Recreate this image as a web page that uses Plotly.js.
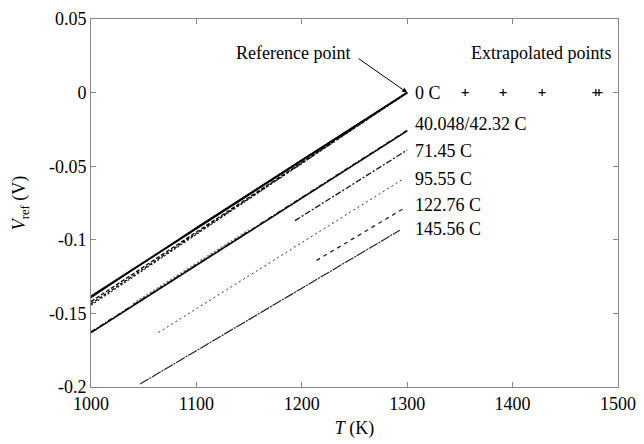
<!DOCTYPE html>
<html>
<head>
<meta charset="utf-8">
<script src="https://cdn.plot.ly/plotly-3.0.1.min.js"></script>
<style>html,body{margin:0;padding:0;background:#fff;}#chart{width:644px;height:444px;}</style>
</head>
<body>
<div id="chart"></div>
<script>
// ---- data ----
const T_grid = [1000, 1100, 1200, 1300];
const V_0C_a = [-0.1385, -0.0925, -0.0462, 0];
const V_0C_b = [-0.1395, -0.0915, -0.0455, 0];
const V_0C_c = [-0.1420, -0.0950, -0.0475, 0];
const V_0C_d = [-0.1435, -0.0960, -0.0480, 0];
const V_0C_e = [-0.1445, -0.0965, -0.0485, 0];

const T_40 = [1000, 1300];
const V_40 = [-0.1630, -0.0260];
const V_42 = [-0.1625, -0.0255];
const T_42grey = [1040, 1150];
const V_42grey = [-0.1437, -0.0935];

const T_71 = [1193.5, 1300];
const V_71 = [-0.0870, -0.0390];
const T_95 = [1064, 1296];
const V_95 = [-0.1630, -0.0588];
const T_122 = [1214, 1296];
const V_122 = [-0.1140, -0.0790];
const T_145 = [1046.5, 1293];
const V_145 = [-0.1980, -0.0935];

const T_extrap = [1355, 1391, 1428, 1479, 1482];
const V_extrap = [0, 0, 0, 0, 0];

const seriesLabels = ['0 C', '40.048/42.32 C', '71.45 C', '95.55 C', '122.76 C', '145.56 C'];
const seriesLabelY = [0, -0.0213, -0.0395, -0.0584, -0.0765, -0.0924];
const labelX = 1305.5;

const xTickVals = [1000, 1100, 1200, 1300, 1400, 1500];
const xTickText = ['1000', '1100', '1200', '1300', '1400', '1500'];
const yTickVals = [0.05, 0, -0.05, -0.1, -0.15, -0.2];
const yTickText = ['0.05', '0', '-0.05', '-0.1', '-0.15', '-0.2'];

// ---- traces ----
function ln(x, y, color, width, dash) {
  return {x: x, y: y, type: 'scatter', mode: 'lines', showlegend: false, hoverinfo: 'skip',
          line: {color: color, width: width, dash: dash}};
}
const traces = [
  ln(T_grid, V_0C_a, '#000', 2, 'solid'),
  ln(T_grid, V_0C_b, '#000', 1, 'solid'),
  ln(T_grid, V_0C_c, '#000', 1.3, '4px,2px'),
  ln(T_grid, V_0C_d, '#000', 1.3, '3px,2px'),
  ln(T_grid, V_0C_e, '#222', 1.2, '2px,2px'),
  ln(T_42grey, V_42grey, '#888', 2.5, '2px,2px'),
  ln(T_40, V_40, '#000', 1.5, 'solid'),
  ln(T_40, V_42, '#111', 1.2, '5px,2px,1px,2px'),
  ln(T_71, V_71, '#111', 1.3, '6px,2px,2px,2px'),
  ln(T_95, V_95, '#333', 1, '2px,3px'),
  ln(T_122, V_122, '#222', 1.3, '4px,4px'),
  ln(T_145, V_145, '#222', 1.2, '10px,1px,2px,1px'),
  {x: T_extrap, y: V_extrap, type: 'scatter', mode: 'markers', showlegend: false, hoverinfo: 'skip',
   marker: {symbol: 'cross-thin-open', size: 5, color: '#000', line: {color: '#000', width: 1.2}}}
];

const font = {family: 'Liberation Serif', size: 18, color: '#000'};

const annotations = seriesLabels.map((t, i) => ({
  x: labelX, y: seriesLabelY[i], xref: 'x', yref: 'y', text: t, showarrow: false,
  xanchor: 'left', yanchor: 'middle', font: font
}));
annotations.push({x: 1247.6, y: 0.0266, xref: 'x', yref: 'y', text: 'Reference point', showarrow: false,
  xanchor: 'right', yanchor: 'middle', font: font});
annotations.push({x: 1495.3, y: 0.0266, xref: 'x', yref: 'y', text: 'Extrapolated points', showarrow: false,
  xanchor: 'right', yanchor: 'middle', font: font});
annotations.push({x: 1300, y: 0, xref: 'x', yref: 'y', text: '', showarrow: true,
  ax: -50, ay: -35, arrowhead: 2, arrowsize: 1, arrowwidth: 1, arrowcolor: '#000', standoff: 0});

const axisCommon = {
  showline: true, linecolor: '#888', linewidth: 1, mirror: 'ticks',
  ticks: 'inside', ticklen: 5, tickcolor: '#888', tickwidth: 1,
  showgrid: false, zeroline: false, tickfont: font
};

const layout = {
  width: 644, height: 444,
  margin: {l: 91, r: 26, t: 19, b: 57},
  paper_bgcolor: '#fff', plot_bgcolor: '#fff',
  font: font,
  xaxis: Object.assign({}, axisCommon, {
    range: [1000, 1500], tickvals: xTickVals, ticktext: xTickText,
    title: {text: '<i>T</i> (K)', font: font, standoff: 8}
  }),
  yaxis: Object.assign({}, axisCommon, {
    range: [-0.2, 0.05], tickvals: yTickVals, ticktext: yTickText,
    title: {text: '<i>V</i><sub>ref</sub> (V)', font: font, standoff: 18}
  }),
  annotations: annotations
};

Plotly.newPlot('chart', traces, layout, {staticPlot: true, displayModeBar: false});
</script>
</body>
</html>
